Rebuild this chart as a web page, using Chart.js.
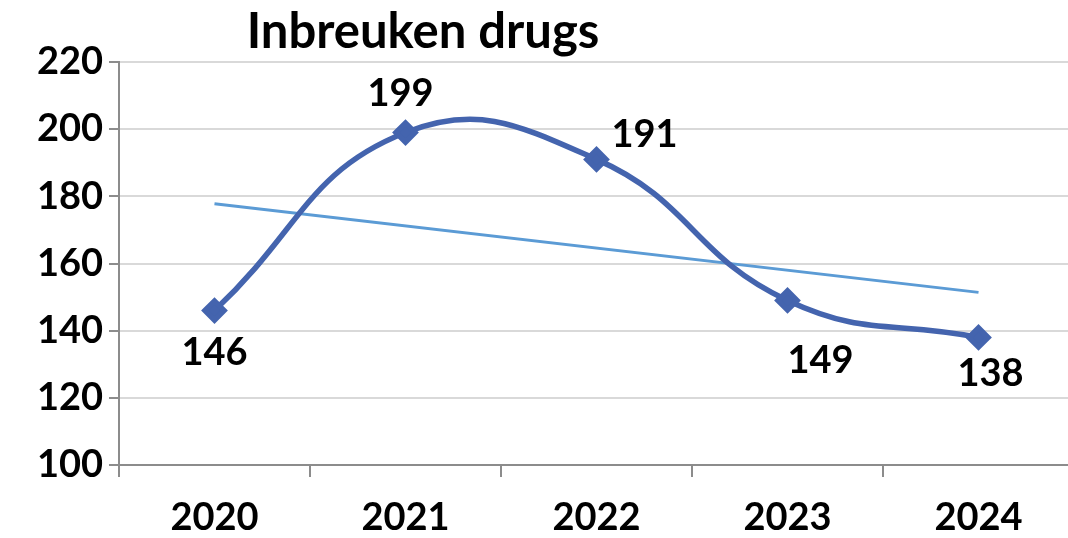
<!DOCTYPE html>
<html>
<head>
<meta charset="utf-8">
<script src="https://cdn.jsdelivr.net/npm/chart.js@4.4.1/dist/chart.umd.min.js"></script>
<style>
  html, body { margin: 0; padding: 0; background: #fff; overflow: hidden; }
  #wrap { width: 1074px; height: 538px; }
</style>
</head>
<body>
<div id="wrap"><canvas id="drugsChart"></canvas></div>
<script>
const years = ['2020', '2021', '2022', '2023', '2024'];
const inbreuken = [146, 199, 191, 149, 138];
// linear trend: only the end points are drawn
const trend = [177.8, null, null, null, 151.4];
const yTicks = [100, 120, 140, 160, 180, 200, 220];

const FONT = 'Lato, "Noto Sans", sans-serif';

// label offsets from the point (dx, dy), as placed in the original
const labelOffsets = [[0, 42], [-5, -39], [48, -25], [33, 60], [12, 36]];

const valueLabels = {
  id: 'valueLabels',
  afterDatasetsDraw(chart) {
    const ctx = chart.ctx;
    const meta = chart.getDatasetMeta(0);
    ctx.save();
    ctx.font = 'bold 38px ' + FONT;
    ctx.fillStyle = '#000';
    ctx.textAlign = 'center';
    ctx.textBaseline = 'middle';
    meta.data.forEach((pt, i) => {
      const off = labelOffsets[i];
      ctx.fillText(String(inbreuken[i]), pt.x + off[0], pt.y + off[1]);
    });
    // title
    ctx.font = 'bold 49px ' + FONT;
    ctx.textBaseline = 'alphabetic';
    ctx.fillText('Inbreuken drugs', 423, 48);
    ctx.restore();
  }
};

new Chart(document.getElementById('drugsChart'), {
  type: 'line',
  data: {
    labels: years,
    datasets: [
      {
        label: 'Inbreuken drugs',
        data: inbreuken,
        borderColor: '#4464ae',
        backgroundColor: '#4464ae',
        borderWidth: 5.5,
        tension: 0.45,
        pointStyle: 'rectRot',
        pointRadius: 9.5,
        pointHoverRadius: 9.5,
      },
      {
        label: 'Trend',
        data: trend,
        spanGaps: true,
        borderColor: '#5b9bd5',
        borderWidth: 3,
        pointRadius: 0,
        order: 1,
      },
    ],
  },
  plugins: [valueLabels],
  options: {
    responsive: true,
    maintainAspectRatio: false,
    animation: false,
    layout: { autoPadding: false, padding: { top: 62, right: 0, left: 0, bottom: 0 } },
    plugins: {
      legend: { display: false },
      title: { display: false },
      tooltip: { enabled: false },
    },
    scales: {
      x: {
        offset: true,
        grid: {
          offset: true,
          drawOnChartArea: false,
          drawTicks: true,
          tickLength: 12,
          tickColor: '#8c8c8c',
          lineWidth: 2,
        },
        border: { color: '#8c8c8c', width: 2 },
        ticks: {
          color: '#000',
          font: { family: FONT, size: 38, weight: 'bold' },
          padding: 18,
          maxRotation: 0,
        },
        afterFit(scale) {
          scale.height = 73;
          scale.paddingLeft = 0;
          scale.paddingRight = 0;
        },
      },
      y: {
        min: 100,
        max: 220,
        afterBuildTicks(scale) { scale.ticks = yTicks.map(v => ({ value: v })); },
        grid: {
          color: '#d9d9d9',
          lineWidth: 2,
          tickLength: 10,
          tickColor: '#8c8c8c',
        },
        border: { color: '#8c8c8c', width: 2 },
        ticks: {
          color: '#000',
          font: { family: FONT, size: 38, weight: 'bold' },
          padding: 6,
        },
        afterFit(scale) { scale.width = 119; },
      },
    },
  },
});
</script>
</body>
</html>
